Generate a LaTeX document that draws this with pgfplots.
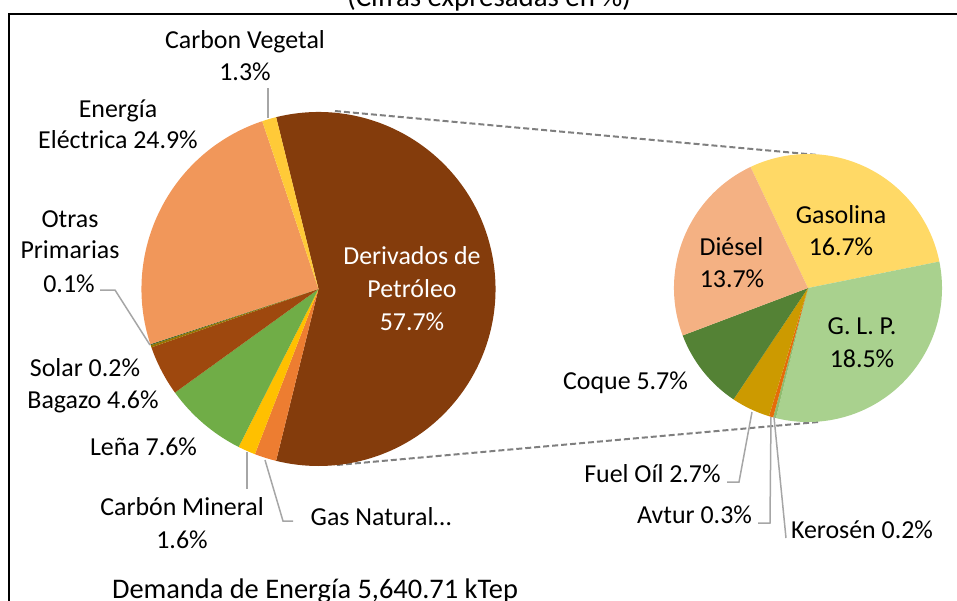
\documentclass[border=0pt]{standalone}
\usepackage{pgfplots}
\pgfplotsset{compat=1.18}
\usepackage{pgfplotstable}
\usepackage{fontspec}
\setmainfont{Carlito}

\definecolor{cDer}{HTML}{843C0C}
\definecolor{cGas}{HTML}{ED7D31}
\definecolor{cCM}{HTML}{FFC000}
\definecolor{cLena}{HTML}{70AD47}
\definecolor{cBag}{HTML}{9E480E}
\definecolor{cSol}{HTML}{997300}
\definecolor{cOtr}{HTML}{43682B}
\definecolor{cEE}{HTML}{F1975A}
\definecolor{cCV}{HTML}{FFCA38}
\definecolor{cGasol}{HTML}{FFD966}
\definecolor{cGLP}{HTML}{A9D18E}
\definecolor{cKer}{HTML}{8FBC6F}
\definecolor{cAvt}{HTML}{E46C0A}
\definecolor{cFO}{HTML}{CC9A00}
\definecolor{cCoq}{HTML}{548235}
\definecolor{cDie}{HTML}{F4B183}
\definecolor{leader}{HTML}{A6A6A6}
\definecolor{dashc}{HTML}{7F7F7F}

% Primary pie (share of total demand, %)
\pgfplotstableread[col sep=comma]{
name,value,color
Derivados de Petroleo,57.7,cDer
Gas Natural,2.0,cGas
Carbon Mineral,1.6,cCM
Lena,7.6,cLena
Bagazo,4.6,cBag
Solar,0.2,cSol
Otras Primarias,0.1,cOtr
Energia Electrica,24.9,cEE
Carbon Vegetal,1.3,cCV
}\maintable

% Secondary pie (breakdown of Derivados de Petroleo, %)
\pgfplotstableread[col sep=comma]{
name,value,color
Gasolina,16.7,cGasol
GLP,18.5,cGLP
Kerosen,0.2,cKer
Avtur,0.3,cAvt
Fuel Oil,2.7,cFO
Coque,5.7,cCoq
Diesel,13.7,cDie
}\sectable

% #1 table, #2 cx, #3 cy, #4 radius, #5 start (compass degrees, clockwise from north)
\newcommand\drawpie[5]{%
  \pgfplotstablegetrowsof{#1}%
  \pgfmathtruncatemacro\pienrows{\pgfplotsretval-1}%
  \def\pietotal{0}%
  \pgfplotsforeachungrouped \pieidx in {0,...,\pienrows}{%
    \pgfplotstablegetelem{\pieidx}{value}\of{#1}%
    \pgfmathsetmacro\pietotal{\pietotal+\pgfplotsretval}%
  }%
  \def\piecum{#5}%
  \pgfplotsforeachungrouped \pieidx in {0,...,\pienrows}{%
    \pgfplotstablegetelem{\pieidx}{value}\of{#1}%
    \let\pieval\pgfplotsretval
    \pgfplotstablegetelem{\pieidx}{color}\of{#1}%
    \let\piecol\pgfplotsretval
    \pgfmathsetmacro\piea{90-\piecum}%
    \pgfmathsetmacro\piecum{\piecum+(\pieval/\pietotal)*360}%
    \pgfmathsetmacro\pieb{90-\piecum}%
    \edef\pietemp{\noexpand\fill[\piecol] (axis cs:#2,#3) -- ++(\piea:#4bp) arc[start angle=\piea,end angle=\pieb,radius=#4bp] -- cycle;}%
    \pietemp
  }%
}

\tikzset{lbl/.style={anchor=base,inner sep=0pt,font=\fontsize{26}{31}\selectfont}}

\begin{document}
\begin{tikzpicture}
\useasboundingbox (0,-601bp) rectangle (957bp,0);
\begin{axis}[x=1bp,y=1bp,y dir=reverse,xmin=0,xmax=957,ymin=0,ymax=601,
  hide axis,anchor=north west,at={(0,0)},clip=false]
\addplot[draw=none] coordinates {(0,0)};
% frame
\draw[line width=2bp] (axis cs:9,640) -- (axis cs:9,13.5) -- (axis cs:990,13.5);
% dashed connectors
\draw[dashc,line width=2bp,dash pattern=on 6bp off 3bp] (axis cs:335,111) -- (axis cs:818,155);
\draw[dashc,line width=2bp,dash pattern=on 6bp off 3bp] (axis cs:337,465) -- (axis cs:818,422);
% pies
\drawpie{\maintable}{318.5}{289}{177}{-13.86}
\drawpie{\sectable}{808}{288}{134}{-25.4}
% leader lines
\draw[leader,line width=1.5bp] (axis cs:268,88) -- (axis cs:268,118);
\draw[leader,line width=1.5bp] (axis cs:100,290) -- (axis cs:115,290) -- (axis cs:150,345);
\draw[leader,line width=1.5bp] (axis cs:247,452) -- (axis cs:247,489);
\draw[leader,line width=1.5bp] (axis cs:265,460) -- (axis cs:283,521) -- (axis cs:293,521);
\draw[leader,line width=1.5bp] (axis cs:752,412) -- (axis cs:739,482) -- (axis cs:727,482);
\draw[leader,line width=1.5bp] (axis cs:771,417) -- (axis cs:770,523) -- (axis cs:758,523);
\draw[leader,line width=1.5bp] (axis cs:774,417) -- (axis cs:786,538);
% labels
\node[lbl] at (axis cs:245,48) {Carbon Vegetal};
\node[lbl] at (axis cs:245,80) {1.3\%};
\node[lbl] at (axis cs:118,117) {Energía};
\node[lbl] at (axis cs:118,148) {Eléctrica 24.9\%};
\node[lbl] at (axis cs:70,227) {Otras};
\node[lbl] at (axis cs:70,258) {Primarias};
\node[lbl] at (axis cs:69,292) {0.1\%};
\node[lbl] at (axis cs:85,376) {Solar 0.2\%};
\node[lbl] at (axis cs:93,408) {Bagazo 4.6\%};
\node[lbl] at (axis cs:143.5,455) {Leña 7.6\%};
\node[lbl] at (axis cs:182,515) {Carbón Mineral};
\node[lbl] at (axis cs:182,548) {1.6\%};
\node[lbl] at (axis cs:381,525) {Gas Natural…};
\node[lbl,white] at (axis cs:412,264) {Derivados de};
\node[lbl,white] at (axis cs:412,297) {Petróleo};
\node[lbl,white] at (axis cs:412,330) {57.7\%};
\node[lbl] at (axis cs:841,223) {Gasolina};
\node[lbl] at (axis cs:841,255) {16.7\%};
\node[lbl] at (axis cs:731.5,255) {Diésel};
\node[lbl] at (axis cs:732,287) {13.7\%};
\node[lbl] at (axis cs:862,334) {G. L. P.};
\node[lbl] at (axis cs:862,367) {18.5\%};
\node[lbl] at (axis cs:625.5,389) {Coque 5.7\%};
\node[lbl] at (axis cs:652.5,482) {Fuel Oíl 2.7\%};
\node[lbl] at (axis cs:694.5,523) {Avtur 0.3\%};
\node[lbl] at (axis cs:862,538) {Kerosén 0.2\%};
\node[lbl,font=\fontsize{29}{34}\selectfont] at (axis cs:489,6) {(Cifras expresadas en \%)};
\node[lbl,font=\fontsize{28.5}{34}\selectfont] at (axis cs:315,598) {Demanda de Energía 5,640.71 kTep};
\end{axis}
\end{tikzpicture}
\end{document}
